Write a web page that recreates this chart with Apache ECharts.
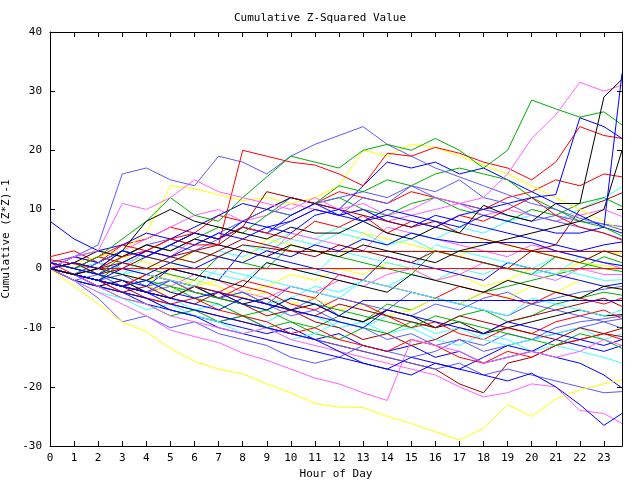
<!DOCTYPE html>
<html><head><meta charset="utf-8">
<script src="https://cdn.jsdelivr.net/npm/echarts@6/dist/echarts.min.js"></script>
<style>html,body{margin:0;padding:0;background:#fff}#c{width:640px;height:480px}</style>
</head><body><div id="c"></div>
<script>
const hours = [0,1,2,3,4,5,6,7,8,9,10,11,12,13,14,15,16,17,18,19,20,21,22,23,23.75];
const xTicks = [0,1,2,3,4,5,6,7,8,9,10,11,12,13,14,15,16,17,18,19,20,21,22,23];
const yTicks = [-30,-20,-10,0,10,20,30,40];

const s01 = [0,2,4,16,17,15,14,19,18,16,19,21,22.5,24,21,19,17,15.5,14,12.5,11,10,8.5,7.5,6.5];
const s02 = [0,1,0,2,3,5,4,4,20,19,18,17.5,16,14,19.5,19,20.5,19.5,18,17,15,18,24,22.5,22];
const s03 = [1,0,2,5,8,12,9,8,12,15.5,19,18,17,20,21,20,22,20,17,20,28.5,27,25.6,26.5,24.3];
const s04 = [0,2,3,11,10,12,15,13,12,11,10,12,10,11,9,10,12,11,12,16,22,26,31.5,30,31];
const s05 = [0,-1,0,3,8,10,8,7,6,5,7,6,6,8,6,5,7,6,10.7,9,8,11,11,29,32];
const s06 = [0,1,0,3,2,4,6,5,8,7,6,9,10,8,9,8,7,9,10,11,12,12.5,25.5,24,22];
const s07 = [1,0,-1,1,3,2,4,6,5,7,8,10,9,8,10,9,8,7,9,8,7,6,6,7,33];
const s08 = [0,1,3,2,4,3,5,4,3,2,4,3,2,4,3,2,1,3,4,5,6,7,8,10,20];
const s09 = [0,-3,-6,-9,-10.7,-13.5,-15.7,-17,-17.8,-19.5,-21,-22.8,-23.4,-23.5,-25,-26.2,-27.6,-29,-27,-23,-25,-22,-20.5,-19.5,-18.8];
const s10 = [0,-2,-4,-6,-8,-10.4,-11.5,-12.5,-14.3,-15.5,-17,-18.5,-19.5,-21,-22.3,-12,-13,-14,-16,-15,-14,-15,-14,-12,-13];
const s11 = [0,-1,-3,-5,-6,-8,-9,-10,-11,-10,-12,-13,-14,-15,-16,-17,-18,-20,-21.7,-21,-19.5,-20,-24,-24.5,-26.2];
const s12 = [0,-1,-2,-3,-4,-6,-7,-8,-9,-10,-11,-12,-14,-16,-17,-15,-16,-17,-18,-19,-17.7,-20,-23,-26.5,-24.5];
const s13 = [0,-2,-5,-9,-8,-10,-9,-11,-12,-13,-15,-16,-15,-13,-14,-15,-14,-12,-13,-11,-12,-10,-9,-8.5,-8];
const s14 = [0,-1,-2,-3,-5,-6,-7,-8,-9,-10,-11,-12,-13,-14,-15,-16,-17,-19.5,-21,-16,-15,-13,-12,-11,-10.1];
const s15 = [1,0,-1,-3,-4,-5,-7,-6,-8,-9,-7,-8,-10,-9,-11,-10,-12,-13,-11,-12,-14,-13,-14,-15,-16];
const s16 = [0,-2,-3,-4,-6,-7,-8,-9,-10,-11,-10,-12,-11,-13,-14,-13,-15,-14,-16,-15,-14,-15,-16,-18,-20.2];
const s17 = [0,-1,-3,-4,-5,-7,-8,-9,-8,-10,-11,-12,-13,-14,-15,-16,-17,-16,-18,-17,-18,-19,-20,-21,-20.8];
const s18 = [2,3,1,4,5,7,6,9,8,10,12,11,13,12,11,13,12,11,10,12,13,15,14,16,15.5];
const s19 = [0,1,-1,1,2,1,3,2,4,3,5,4,6,5,4,6,5,7,6,8,9,8,10,12,13.8];
const s20 = [1,0,2,1,3,2,1,3,5,4,3,2,4,3,2,1,3,2,1,0,3,4,10,11.5,12.8];
const s21 = [0,-1,1,3,2,4,6,5,8,10,9,11,12,10,9,11,12,10,9,8,10,9,11,12,10.5];
const s22 = [0,2,1,3,5,7,9,10,8,9,11,10,9,10,8,9,10,11,9,10,9,8,9,10,8.8];
const s23 = [1,2,3,2,4,5,4,6,8,10,9,11,12,13,12,14,12,11,10,9,8,9,8,7.5,7.1];
const s24 = [0,1,2,3,6,14,13.5,12.5,11.5,12,11,12,14,20,19,21,20.5,19,17.5,16,14,12,10,8,6.5];
const s25 = [0,2,1,3,2,4,6,5,7,6,9,11,10,14,18,17,18,16,17,15,13,11,9,7,6];
const s26 = [0,1,-1,2,4,3,5,7,6,9,12,11,14,13,15,14,16,17,16,15,12,10,8,7,5.5];
const s27 = [0,-1,1,3,2,4,3,5,7,6,8,10,9,12,11,14,13,15,12,11,9,8,7,6,5];
const s28 = [1,0,2,4,3,5,6,5,7,6,5,8,7,9,6,8,7,9,8,10,12,9,7,6,4.8];
const s29 = [0,-1,-2,0,-1,1,0,2,1,3,2,4,3,5,4,6,5,4.4,4.4,4.4,4.4,3,2,1,0.5];
const s30 = [0,1,-1,0,2,1,3,2,4,3.5,2.9,2.9,2.9,2.9,2.9,2.9,2.9,2.9,2.9,2.9,2.9,2.9,2.9,2.9,2.9];
const s31 = [1.5,0.8,0,0,0,0,0,0,0,0,0,0,0,0,0,0,0,0,0,0,0,0,0,0,0];
const s32 = [0,-1,-2,-3,-2,-4,-5,-4,-6,-7,-5,-6,-8,-5.4,-5.4,-5.4,-5.4,-5.4,-5.4,-5.4,-5.4,-5.4,-5.4,-5.4,-5.4];
const s33 = [0,-1,-2,-3,-2,-4,-3,-5,-4,-6,-5,-3,-4,-2,-3,-1,-2,0,-1,1,0,2,1,3,2];
const s34 = [1,0,-1,-2,-4,-3,-5,-6,-8,-7,-9,-10,-8,-9,-6,-7,-5,-6,-4,-3,-2,-1,0,2,1];
const s35 = [0,1,0,-1,-2,-1,-3,-2,-4,-3,-1,-2,0,-1,1,0,-2,-1,-3,-2,0,-1,1,0.5,0];
const s36 = [0,-1,-3,-2,-4,-3,-1,-2,-4,-5,-3,-4,-2,-3,-1,0,-2,-1,1,0,-1,-2,0,-1,-1];
const s37 = [1,0,1,-1,0,2,1,3,2,4,6,5,7,6,4,5,3,2,1,0,-1,0,-1,-2,-1.9];
const s38 = [0,-2,-1,-3,-4,-2,-3,-5,-4,-6,-7,-5,-8,-9,-7,-8,-6,-7,-5,-4,-6,-5,-4,-3.5,-3];
const s39 = [0,-1,-2,-1,-3,-4,-2,-3,-5,-4,-6,-5,-7,-6,-8,-7,-5,-6,-4,-5,-3,-4,-2,-3,-3.6];
const s40 = [0,-2,-3,-5,-6,-8,-7,-9,-8,-10,-9,-11,-12,-10,-11,-9,-10,-8,-7,-9,-8,-6,-5,-4,-4.5];
const s41 = [0,-1,-2,-4,-3,-5,-6,-4,-6,-8,-7,-9,-10,-12,-11,-13,-12,-10,-11,-9,-8,-7,-6,-5,-6.4];
const s42 = [0,-1,-3,-2,-4,-5,-3,-5,-6,-5,-7,-6,-8,-9,-7,-8,-10,-9,-11,-10,-9,-8,-7,-8,-7.8];
const s43 = [1,-1,-2,-3,-1,-2,-4,-5,-3,-4,-6,-7,-5,-6,-8,-10,-9,-11,-12,-10,-11,-9,-8,-7,-8.5];
const s44 = [0,-1,-2,-1,-3,-2,-4,-5,-4,-6,-8,-7,-9,-10,-12,-11,-13,-12,-14,-13,-12,-11,-10,-9,-10.1];
const s45 = [0,-2,-4,-5,-7,-6,-8,-9,-11,-10,-12,-11,-9,-10,-8,-9,-11,-10,-12,-13,-12,-11,-10,-12,-11];
const s46 = [0,-1,-2,-4,-5,-6,-5,-7,-8,-9,-11,-10,-12,-13,-14,-12,-13,-15,-16,-14,-15,-13,-12,-11,-12];
const s47 = [0,-2,-3,-4,-5,-7,-8,-10,-11,-12,-13,-14,-15,-16,-17,-18,-16,-17,-15,-13,-14,-12,-13,-14,-13];
const s48 = [8,5,3,4,6,5,7,9,11,10,12,11,9,10,8,7,9,8,7,6,5,4,3,4,4.5];
const s49 = [0,-1,0,1,0,2,3,4,7,13,12,11,10,9,8,7,8,6,5,4,3,2,1,3,2];
const s50 = [0,-1,-2,1,0,-1,-2,2,1,0,4,3,2,1,0,-1,3,2,1,0,-1,2,1,0,-0.5];
const s51 = [1,0,-1,-2,-3,0,-1,-2,3,2,1,0,-1,-2,2,1,0,-1,-2,1,0,-1,-2,-3,-2.5];
const s52 = [0,1,0,-1,2,1,0,-1,-2,1,0,-1,3,2,1,0,4,3,2,1,0,-1,2,1,0.5];
const s53 = [0,-1,0,2,1,0,3,2,1,5,4,3,2,6,5,4,3,2,5,4,3,2,1,3,2.5];
const s54 = [0,-1,-2,-3,-1,-2,-3,-4,-2,-3,-4,-5,-1,-2,-3,-4,-5,-3,-4,-5,-6,-4,-5,-6,-5];
const s55 = [1,2,1,0,3,2,5,4,3,2,6,5,4,3,7,6,5,4,3,2,4,3,2,1,0];
const s56 = [0,-1,-2,-3,-4,-2,-3,-4,-5,-6,-3,-4,-5,-6,-7,-4,-5,-6,-7,-8,-6,-7,-8,-9,-8.5];
const s57 = [0,-1,-2,-3,-4,-5,-3,-4,-5,-6,-7,-8,-6,-7,-8,-9,-10,-8,-9,-10,-11,-12,-10,-11,-11.5];
const s58 = [0,1,0,-1,-2,0,-1,-2,-3,1,0,-1,-2,-3,-4,-1,-2,-3,-4,-2,-3,-4,-5,-3,-3.5];
const s59 = [0,-1,-2,-3,-2,-3,-4,-5,-6,-7,-5,-6,-7,-8,-9,-10,-8,-9,-10,-11,-12,-13,-11,-12,-13.5];
const s60 = [0,-1,1,0,-1,-2,-3,0,-1,-2,-3,-4,-5,-2,-3,-4,-5,-6,-7,-8,-5,-6,-7,-8,-7];
const s61 = [0,-1,-2,-3,-4,-5,-6,-7,-5,-6,-7,-8,-9,-10,-7,-8,-9,-10,-11,-9,-10,-11,-12,-13,-12];

const RED='#ff0000', GREEN='#00b000', BLUE='#0000ff', PINK='#ff60ff', CYAN='#40ffff',
      DRED='#a00000', YEL='#ffff00', BLK='#000000', LBLUE='#5a5aff';

const lineDefs = [
  [s13,LBLUE],[s14,DRED],[s15,CYAN],[s16,BLUE],[s17,LBLUE],[s33,CYAN],[s34,GREEN],[s35,YEL],
  [s36,PINK],[s37,CYAN],[s38,LBLUE],[s39,YEL],[s40,GREEN],[s41,DRED],[s42,BLK],[s43,RED],
  [s44,LBLUE],[s45,CYAN],[s46,RED],[s47,BLUE],[s50,GREEN],[s51,BLUE],[s52,CYAN],[s53,YEL],
  [s54,RED],[s55,PINK],[s56,LBLUE],[s57,DRED],[s58,BLK],[s59,GREEN],[s60,CYAN],[s61,BLUE],
  [s18,RED],[s19,CYAN],[s20,DRED],[s21,GREEN],
  [s22,PINK],[s23,LBLUE],[s24,YEL],[s25,BLUE],[s26,GREEN],[s27,LBLUE],[s28,RED],[s29,BLUE],
  [s30,DRED],[s31,RED],[s32,BLUE],[s48,BLUE],[s49,DRED],[s09,YEL],[s10,PINK],[s11,PINK],
  [s12,BLUE],[s08,BLK],[s01,LBLUE],[s02,RED],[s03,GREEN],[s04,PINK],[s05,BLK],[s06,BLUE],[s07,BLUE]
];

const FONT = '"DejaVu Sans Mono", monospace';
const chart = echarts.init(document.getElementById('c'), null, {renderer:'canvas'});
const series = lineDefs.map((d) => ({
  type: 'line', xAxisIndex: 0, yAxisIndex: 0,
  data: hours.map((h, i) => [h, d[0][i]]),
  showSymbol: false, symbol: 'none', animation: false, silent: true,
  lineStyle: {color: d[1], width: 1}, itemStyle: {color: d[1]}
}));

const baseX = {
  type: 'value', min: 0, max: 23.75, interval: 1,
  axisLine: {show: true, onZero: false, lineStyle: {color: '#000', width: 1}},
  axisTick: {show: true, inside: true, length: 5, lineStyle: {color: '#000'}},
  splitLine: {show: false}
};
const baseY = {
  type: 'value', min: yTicks[0], max: yTicks[yTicks.length-1], interval: 10,
  axisLine: {show: true, onZero: false, lineStyle: {color: '#000', width: 1}},
  axisTick: {show: true, inside: true, length: 5, lineStyle: {color: '#000'}},
  splitLine: {show: false}
};

chart.setOption({
  backgroundColor: '#fff',
  animation: false,
  title: {
    text: 'Cumulative Z-Squared Value', left: 'center', top: 8,
    textStyle: {fontFamily: FONT, fontSize: 11, fontWeight: 'normal', color: '#000'}
  },
  grid: {left: 50, right: 18, top: 32, bottom: 34, show: false, containLabel: false, outerBoundsMode: 'none'},
  xAxis: [
    Object.assign({}, baseX, {
      position: 'bottom', name: 'Hour of Day', nameLocation: 'middle', nameGap: 23,
      nameTextStyle: {fontFamily: FONT, fontSize: 11, color: '#000'},
      axisLabel: {show: true, margin: 7, fontFamily: FONT, fontSize: 11, color: '#000', showMaxLabel: false,
        formatter: v => (xTicks.indexOf(v) >= 0 ? String(v) : '')}
    }),
    Object.assign({}, baseX, {position: 'top', axisLabel: {show: false}})
  ],
  yAxis: [
    Object.assign({}, baseY, {
      position: 'left', name: 'Cumulative (Z*Z)-1', nameLocation: 'middle', nameGap: 28,
      nameTextStyle: {fontFamily: FONT, fontSize: 11, color: '#000'},
      axisLabel: {show: true, margin: 8, fontFamily: FONT, fontSize: 11, color: '#000'}
    }),
    Object.assign({}, baseY, {position: 'right', axisLabel: {show: false}})
  ],
  series: series
});
</script>
</body></html>
